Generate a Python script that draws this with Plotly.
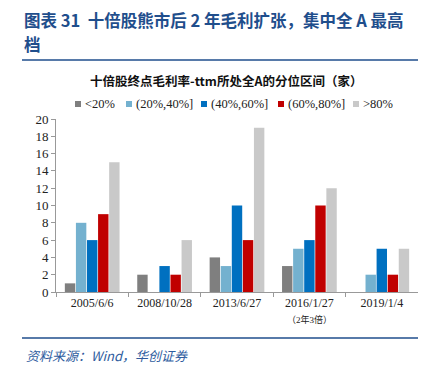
import plotly.graph_objects as go

categories = ["2005/6/6", "2008/10/28", "2013/6/27", "2016/1/27", "2019/1/4"]
tick_labels = ["2005/6/6", "2008/10/28", "2013/6/27",
               "2016/1/27<br><span style='font-size:9px'>（2年3倍）</span>", "2019/1/4"]
series_names = ["<20%", "(20%,40%]", "(40%,60%]", "(60%,80%]", ">80%"]
s_lt20 = [1, 2, 4, 3, 0]
s_20_40 = [8, 0, 3, 5, 2]
s_40_60 = [6, 3, 10, 6, 5]
s_60_80 = [9, 2, 6, 10, 2]
s_gt80 = [15, 6, 19, 12, 5]
colors = ["#7F7F7F", "#74B1CF", "#0070C0", "#C00000", "#C9C9C9"]

W, H = 426, 367
L, R, T, B = 48, 16, 111, 83
pw = W - L - R
ph = H - T - B

def px(x):
    return (x - L) / pw

def py(y):
    return (H - B - y) / ph

fig = go.Figure()
for name, vals, c in zip(series_names, [s_lt20, s_20_40, s_40_60, s_60_80, s_gt80], colors):
    fig.add_trace(go.Bar(x=categories, y=vals, name=name, marker_color=c,
                         marker_line_width=0, showlegend=False))

serif = "Liberation Serif, Times New Roman, Noto Sans CJK SC"
cjk = "Noto Sans CJK SC"

fig.update_layout(
    width=W, height=H,
    margin=dict(l=L, r=R, t=T, b=B),
    paper_bgcolor="white", plot_bgcolor="white",
    barmode="group", bargap=0.235, bargroupgap=0.06,
    xaxis=dict(tickmode="array", tickvals=categories, ticktext=tick_labels,
               tickson="boundaries", ticks="outside", ticklen=4, tickcolor="#999",
               showline=True, linecolor="#999", linewidth=1,
               tickfont=dict(family=serif, size=12, color="#222"), showgrid=False),
    yaxis=dict(range=[0, 20], tickvals=list(range(0, 21, 2)), ticks="outside", ticklen=4,
               tickcolor="#999", showline=True, linecolor="#999", linewidth=1,
               showgrid=False, zeroline=False,
               tickfont=dict(family=serif, size=13, color="#222")),
)

anns = [
    dict(text="<b>图表 31  十倍股熊市后 2 年毛利扩张，集中全 A 最高</b>", x=px(14), y=py(12),
         xanchor="left", yanchor="middle", font=dict(family=cjk, size=16.5, color="#1F4E8C")),
    dict(text="<b>档</b>", x=px(14), y=py(36), xanchor="left", yanchor="middle",
         font=dict(family=cjk, size=16.5, color="#1F4E8C")),
    dict(text="<b>十倍股终点毛利率-ttm所处全A的分位区间（家）</b>", x=px(218), y=py(72),
         xanchor="center", yanchor="middle", font=dict(family=cjk, size=12.5, color="#111")),
    dict(text="<i>资料来源：Wind，华创证券</i>", x=px(16), y=py(347), xanchor="left",
         yanchor="middle", font=dict(family=cjk, size=13, color="#2E5C9E")),
]

# manual legend
leg_sq_x = [67, 118, 193, 270, 345]
leg_y = 96
for name, c, sx in zip(series_names, colors, leg_sq_x):
    fig.add_shape(type="rect", xref="paper", yref="paper", x0=px(sx), x1=px(sx + 6),
                  y0=py(leg_y + 3), y1=py(leg_y - 3), fillcolor=c, line_width=0)
    anns.append(dict(text=name, x=px(sx + 7.5), y=py(leg_y), xanchor="left", yanchor="middle",
                     font=dict(family=serif, size=12.5, color="#222")))

for a in anns:
    a.update(xref="paper", yref="paper", showarrow=False)
    fig.add_annotation(**a)

for yy in (52, 330):
    fig.add_shape(type="line", xref="paper", yref="paper", x0=px(14), x1=px(424),
                  y0=py(yy), y1=py(yy), line=dict(color="#1F4E8C", width=1.5))

fig.write_html("out.html")
